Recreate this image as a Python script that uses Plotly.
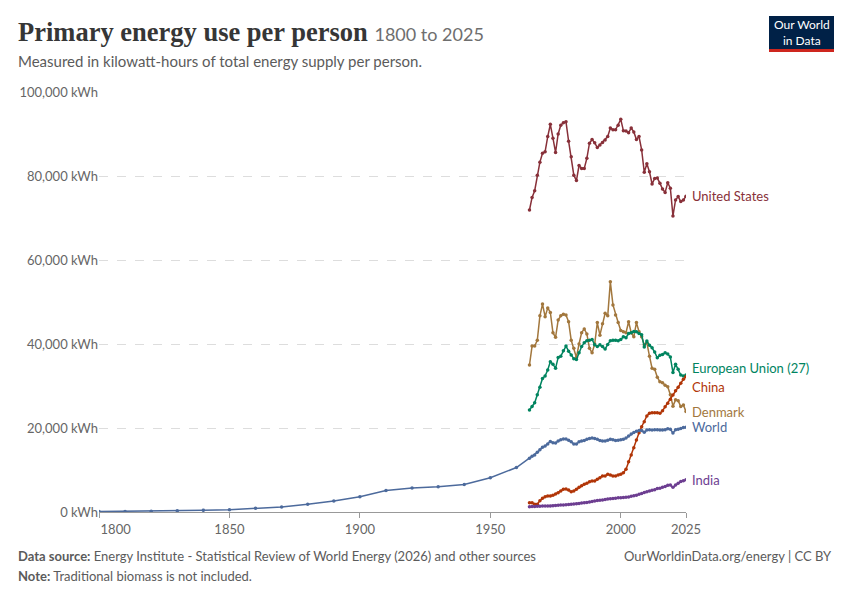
import plotly.graph_objects as go

# --- data (kWh per person) ---
world_years = [1800, 1810, 1820, 1830, 1840, 1850, 1860, 1870, 1880, 1890,
               1900, 1910, 1920, 1930, 1940, 1950, 1960] + list(range(1965, 2026))
world = [100, 130, 170, 300, 400, 560, 900, 1200, 1820, 2600,
         3630, 5130, 5690, 6000, 6560, 8140, 10590,
         12800, 13300, 13600, 14200, 14800, 15400, 15700, 16200, 16800, 16500,
         16400, 16900, 17200, 17400, 17400, 17100, 16700, 16200, 16200, 16700,
         16900, 17000, 17300, 17500, 17600, 17500, 17300, 17000, 16900, 16900,
         17100, 17300, 17200, 17000, 17100, 17200, 17300, 17600, 18100, 18600,
         18900, 19200, 19400, 19400, 19000, 19500, 19600, 19500, 19600, 19600,
         19500, 19500, 19600, 19800, 19700, 18800, 19600, 19700, 19900, 20100,
         20200]

years = list(range(1965, 2026))

united_states = [71900, 74900, 76500, 80200, 83300, 85400, 85800, 89400, 92300, 89000,
                 85600, 90000, 92100, 92700, 92900, 88300, 84600, 80200, 78900, 82500,
                 81800, 81800, 84200, 87800, 88700, 87900, 86800, 87400, 88000, 88600,
                 89400, 91400, 91000, 91000, 92100, 93500, 90800, 90700, 90300, 91400,
                 90500, 88700, 89400, 86200, 80900, 82900, 81000, 78100, 79400, 79500,
                 78300, 76900, 76100, 78400, 77100, 70500, 74300, 75100, 73900, 74300,
                 75200]

denmark = [35000, 39500, 39500, 40900, 46700, 49500, 46500, 48600, 47500, 42700,
           41600, 45700, 46700, 47100, 46900, 45300, 40900, 39000, 36800, 40000,
           42700, 43600, 42400, 39000, 37900, 40000, 45100, 42100, 44800, 47300,
           46700, 54800, 49300, 46900, 45100, 43200, 42900, 42700, 45300, 42700,
           41700, 45100, 42900, 41700, 39800, 40300, 37100, 34200, 34000, 32100,
           31000, 30800, 30200, 29800, 27900, 25200, 26700, 26500, 25100, 25500,
           23900]

european_union = [24300, 25100, 26000, 27900, 29700, 31800, 32400, 33800, 35800, 35200,
                  34200, 36800, 37100, 38400, 39500, 38300, 37400, 36500, 36300, 37900,
                  39400, 40300, 40800, 40900, 41100, 39800, 39400, 39800, 39400, 38800,
                  39900, 40800, 40900, 40900, 40800, 41100, 41700, 41500, 42500, 42700,
                  43000, 42900, 42500, 42200, 39300, 40700, 39700, 39100, 38100, 36700,
                  37300, 37500, 37900, 37600, 36900, 33200, 35200, 34000, 32600, 32400,
                  32600]

china = [2200, 2200, 1830, 1830, 2700, 3260, 3650, 3810, 3810, 3970,
         4290, 4600, 5000, 5400, 5480, 5240, 4840, 5000, 5400, 5870,
         6270, 6590, 6830, 7220, 7380, 7380, 7780, 8170, 8570, 8570,
         8970, 8810, 8570, 8570, 8810, 8970, 9360, 10170, 11980, 13570,
         15310, 17140, 18880, 20310, 21500, 22860, 23500, 23650, 23650, 23650,
         23500, 24100, 25070, 25870, 26830, 27860, 28880, 29680, 30640, 31590,
         32220]

india = [1270, 1290, 1310, 1340, 1370, 1400, 1420, 1450, 1440, 1460,
         1530, 1600, 1640, 1680, 1740, 1760, 1840, 1910, 1950, 2040,
         2130, 2200, 2270, 2400, 2520, 2620, 2720, 2800, 2850, 2950,
         3080, 3150, 3230, 3270, 3400, 3420, 3440, 3490, 3560, 3740,
         3850, 3980, 4200, 4380, 4650, 4800, 4980, 5180, 5300, 5580,
         5680, 5900, 6080, 6350, 6400, 5900, 6420, 6850, 7250, 7450,
         7650]

# name, x, y, colour, label nudge in px (to keep end labels apart)
series = [
    ("United States", years, united_states, "#883039", 0),
    ("Denmark", years, denmark, "#A2773D", 0),
    ("European Union (27)", years, european_union, "#00845F", 7),
    ("China", years, china, "#B13507", -10),
    ("World", world_years, world, "#4C6A9C", 0),
    ("India", years, india, "#6D3E91", 0),
]

W, H = 850, 600
L, R, T, B = 99, 164, 92, 88


def px(x, y):
    # pixel position on the page -> paper coordinates
    return (x - L) / (W - L - R), (H - B - y) / (H - T - B)


def text_at(x, y, text, size, anchor="left", color="#5b5b5b", family="Lato"):
    ax, ay = px(x, y)
    fig.add_annotation(
        xref="paper", yref="paper", x=ax, y=ay, xanchor=anchor, yanchor="middle",
        showarrow=False, text=text, font=dict(family=family, size=size, color=color),
    )


fig = go.Figure()
for name, xs, ys, col, nudge in series:
    fig.add_trace(go.Scatter(
        x=xs, y=ys, name=name, mode="lines+markers",
        line=dict(color=col, width=1.5),
        marker=dict(color=col, size=3.5),
        hovertemplate="%{x}: %{y:,.0f} kWh<extra>" + name + "</extra>",
    ))
    fig.add_annotation(
        x=xs[-1], y=ys[-1], text=name, showarrow=False,
        xanchor="left", yanchor="middle", xshift=4, yshift=nudge,
        font=dict(family="Lato", size=13, color=col),
    )

# title, subtitle, footer
text_at(16, 32,
        "<b>Primary energy use per person</b> "
        "<span style='font-family:Lato;font-size:18px;color:#6e6e6e'>1800 to 2025</span>",
        26.5, color="#363636", family="Liberation Serif")
text_at(16, 61, "Measured in kilowatt-hours of total energy supply per person.", 15)
text_at(16, 556, "<b>Data source:</b> Energy Institute - Statistical Review of World Energy "
                 "(2026) and other sources", 13)
text_at(16, 576, "<b>Note:</b> Traditional biomass is not included.", 13)
text_at(834, 556, "OurWorldinData.org/energy | CC BY", 13, anchor="right")

# logo
x0, y0 = px(769, 16)
x1, y1 = px(834, 49)
_, y2 = px(834, 52)
fig.add_shape(type="rect", xref="paper", yref="paper", x0=x0, x1=x1, y0=y1, y1=y0,
              fillcolor="#002147", line_width=0, layer="above")
fig.add_shape(type="rect", xref="paper", yref="paper", x0=x0, x1=x1, y0=y2, y1=y1,
              fillcolor="#CE261E", line_width=0, layer="above")
text_at(801.5, 32.5, "Our World<br>in Data", 12, anchor="center", color="white")

fig.update_layout(
    width=W, height=H,
    margin=dict(l=L, r=R, t=T, b=B),
    plot_bgcolor="white", paper_bgcolor="white",
    showlegend=False,
    font=dict(family="Lato", color="#666666"),
    xaxis=dict(
        range=[1800, 2025],
        tickvals=[1800, 1850, 1900, 1950, 2000, 2025],
        ticktext=["\u00a0" * 10 + "1800", "1850", "1900", "1950", "2000", "2025"],
        showgrid=False, zeroline=False,
        showline=True, linecolor="#999999", linewidth=1,
        ticks="outside", ticklen=5, tickcolor="#999999",
        tickfont=dict(family="Lato", size=13, color="#666666"),
    ),
    yaxis=dict(
        range=[0, 100000],
        tickvals=[0, 20000, 40000, 60000, 80000, 100000],
        ticktext=["0 kWh", "20,000 kWh", "40,000 kWh", "60,000 kWh", "80,000 kWh", "100,000 kWh"],
        showgrid=True, gridcolor="#dddddd", griddash="dash", gridwidth=1,
        zeroline=False, showline=False, ticks="",
        tickfont=dict(family="Lato", size=13, color="#666666"),
    ),
)

# drop the page's default body margin so the chart sits flush in the window
fig.write_html("out.html", config={"displayModeBar": False},
               post_script="document.body.style.margin='0';")
